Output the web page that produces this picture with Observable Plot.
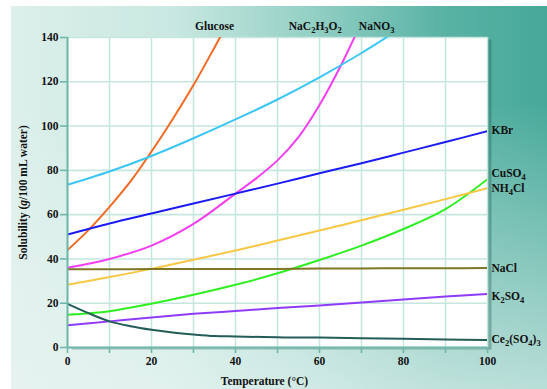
<!DOCTYPE html>
<html>
<head>
<meta charset="utf-8">
<script src="https://cdn.jsdelivr.net/npm/d3@7"></script>
<script src="https://cdn.jsdelivr.net/npm/@observablehq/plot@0.6"></script>
<style>
  html, body { margin: 0; padding: 0; background: #ffffff; }
  #wrap { position: relative; width: 547px; height: 389px; overflow: hidden; }
  #bg { position: absolute; left: 11px; top: 6px; width: 536px; height: 383px;
        background:
          linear-gradient(to bottom, rgba(234,245,243,0) 0%, rgba(234,245,243,0) 25%, rgba(234,245,243,0.7) 100%),
          linear-gradient(to right, #dcefeb 0%, #c9e8e1 30%, #96d1c6 55%, #5ab3a5 80%, #46a999 100%); }
  #chart { position: absolute; left: 0; top: 0; }
</style>
</head>
<body>
<div id="wrap"><div id="bg"></div><div id="chart"></div></div>
<script>
// ---- data ----
const tempsStd = [0, 10, 20, 30, 40, 50, 60, 70, 80, 90, 100];

const glucoseT = [0, 5, 10, 15, 20, 25, 30, 35, 38];
const glucoseS = [44, 53, 63.5, 75, 88.5, 103, 118.5, 135.5, 146];

const nano3T = [0, 10, 20, 30, 40, 50, 60, 70, 80];
const nano3S = [73.5, 79.5, 86.5, 94.5, 103, 112, 122, 133, 145];

const nac2h3o2T = [0, 10, 20, 30, 40, 45, 50, 55, 60, 65, 70];
const nac2h3o2S = [36, 40, 46, 55.8, 69.5, 76.5, 84.5, 95, 109.5, 127, 147];

const kbrS   = [51, 56, 60.5, 65, 69.5, 74, 78.7, 83.2, 88, 92.8, 97.7];
const nh4clS = [28.3, 31.8, 35.5, 39.6, 43.8, 48.3, 52.8, 57.5, 62.2, 67, 72];
const cuso4S = [14.8, 16.4, 19.8, 23.8, 28.3, 33.5, 39.5, 46, 53.5, 62.5, 76];
const naclS  = [35.3, 35.3, 35.4, 35.4, 35.5, 35.5, 35.7, 35.7, 35.8, 35.8, 35.9];
const k2so4S = [10, 11.8, 13.6, 15.2, 16.5, 17.8, 19, 20.3, 21.7, 23, 24.2];

const ce2T = [0, 5, 10, 15, 20, 25, 30, 35, 40, 50, 60, 70, 80, 90, 100];
const ce2S = [19.7, 15.5, 11.8, 9.6, 8, 6.8, 5.9, 5.2, 5, 4.6, 4.5, 4.2, 3.9, 3.6, 3.4];

const seriesNames  = ["Glucose", "NaC₂H₃O₂", "NaNO₃", "KBr", "CuSO₄", "NH₄Cl", "NaCl", "K₂SO₄", "Ce₂(SO₄)₃"];
const seriesColors = ["#f26a24", "#f43ff0", "#3cc6f6", "#1c1cf2", "#2fef22", "#f8c844", "#7f7626", "#8e3cfa", "#245c58"];

// label anchors (data units)
const topLabelT = [35, 59, 73.6];                   // Glucose, NaC2H3O2, NaNO3
const rightLabelS = [98, 78.7, 72, 35.7, 23, 3.6];  // KBr, CuSO4, NH4Cl, NaCl, K2SO4, Ce2(SO4)3

const xTicks = [0, 10, 20, 30, 40, 50, 60, 70, 80, 90, 100];
const yTicks = [0, 20, 40, 60, 80, 100, 120, 140];
const xTitle = "Temperature (°C)";
const yTitle = "Solubility (g/100 mL water)";

// ---- build table ----
function mk(name, T, S) { return T.map((t, i) => ({name, t, s: S[i]})); }
const rows = [
  ...mk(seriesNames[0], glucoseT, glucoseS),
  ...mk(seriesNames[1], nac2h3o2T, nac2h3o2S),
  ...mk(seriesNames[2], nano3T, nano3S),
  ...mk(seriesNames[3], tempsStd, kbrS),
  ...mk(seriesNames[4], tempsStd, cuso4S),
  ...mk(seriesNames[5], tempsStd, nh4clS),
  ...mk(seriesNames[6], tempsStd, naclS),
  ...mk(seriesNames[7], tempsStd, k2so4S),
  ...mk(seriesNames[8], ce2T, ce2S)
];
const topLabels = seriesNames.slice(0, 3).map((n, i) => ({n, t: topLabelT[i]}));
const rightLabels = seriesNames.slice(3).map((n, i) => ({n, s: rightLabelS[i]}));

const font = "'Liberation Serif', 'DejaVu Serif', serif";
const teal = "#6fb8a9";
const gridC = "#c6e6df";
const txt = {fontSize: 11.5, fontWeight: "bold", fill: "#111"};

const plot = Plot.plot({
  width: 547,
  height: 389,
  marginLeft: 67,
  marginRight: 60,
  marginTop: 37,
  marginBottom: 42,
  style: {background: "transparent", fontFamily: font, fontSize: "11.5px", fontWeight: "bold", color: "#111"},
  x: {domain: [0, 100]},
  y: {domain: [0, 140]},
  color: {domain: seriesNames, range: seriesColors},
  marks: [
    Plot.frame({fill: "#1e5b53", fillOpacity: 0.35, stroke: null, dx: 4, dy: 2}),
    Plot.frame({fill: "white", stroke: null}),
    Plot.gridX(xTicks, {stroke: gridC, strokeOpacity: 1, strokeWidth: 1.6}),
    Plot.gridY(yTicks, {stroke: gridC, strokeOpacity: 1, strokeWidth: 1.6}),
    Plot.line(rows, {x: "t", y: "s", z: "name", stroke: "name", strokeWidth: 2, curve: "catmull-rom", clip: true}),
    Plot.ruleX([0], {stroke: teal, strokeWidth: 2}),
    Plot.ruleY([0], {stroke: teal, strokeWidth: 2}),
    Plot.axisX({ticks: xTicks, tickFormat: d => d % 20 === 0 ? d : "", tickSize: 6, tickPadding: 3, stroke: teal, strokeWidth: 1.6, label: null, ...txt}),
    Plot.axisY({ticks: yTicks, tickSize: 7, tickPadding: 2, stroke: teal, strokeWidth: 1.6, label: null, ...txt}),
    Plot.text(topLabels, {x: "t", frameAnchor: "top", lineAnchor: "middle", dy: -11, text: "n", ...txt}),
    Plot.text(rightLabels, {x: () => 100, y: "s", text: "n", dx: 4, textAnchor: "start", lineAnchor: "middle", ...txt}),
    Plot.text([xTitle], {text: d => d, frameAnchor: "bottom", lineAnchor: "middle", dx: -13, dy: 34, ...txt}),
    Plot.text([yTitle], {text: d => d, frameAnchor: "left", textAnchor: "middle", lineAnchor: "middle", dx: -44, rotate: -90, ...txt})
  ]
});

// ---- text post-processing: real subscripts and italic "g" ----
const ns = "http://www.w3.org/2000/svg";
const subMap = {"₀":"0","₁":"1","₂":"2","₃":"3","₄":"4","₅":"5","₆":"6","₇":"7","₈":"8","₉":"9"};
for (const el of plot.querySelectorAll("text")) {
  const s = el.textContent;
  if (s === yTitle) {
    el.textContent = "";
    for (const [p, it] of [["Solubility (", false], ["g", true], ["/100 mL water)", false]]) {
      const ts = document.createElementNS(ns, "tspan");
      ts.textContent = p;
      if (it) ts.setAttribute("font-style", "italic");
      el.appendChild(ts);
    }
  } else if ([...s].some(c => subMap[c])) {
    el.textContent = "";
    let prevSub = false, buf = "", bufSub = false;
    const flush = () => {
      if (!buf) return;
      const ts = document.createElementNS(ns, "tspan");
      ts.textContent = buf;
      if (bufSub && !prevSub) { ts.setAttribute("dy", "3"); ts.setAttribute("font-size", "8.5"); }
      else if (bufSub) { ts.setAttribute("font-size", "8.5"); }
      else if (prevSub) { ts.setAttribute("dy", "-3"); }
      el.appendChild(ts);
      prevSub = bufSub;
      buf = "";
    };
    for (const c of s) {
      const isSub = !!subMap[c];
      if (buf && isSub !== bufSub) flush();
      bufSub = isSub;
      buf += isSub ? subMap[c] : c;
    }
    flush();
  }
}
document.getElementById("chart").appendChild(plot);
</script>
</body>
</html>
